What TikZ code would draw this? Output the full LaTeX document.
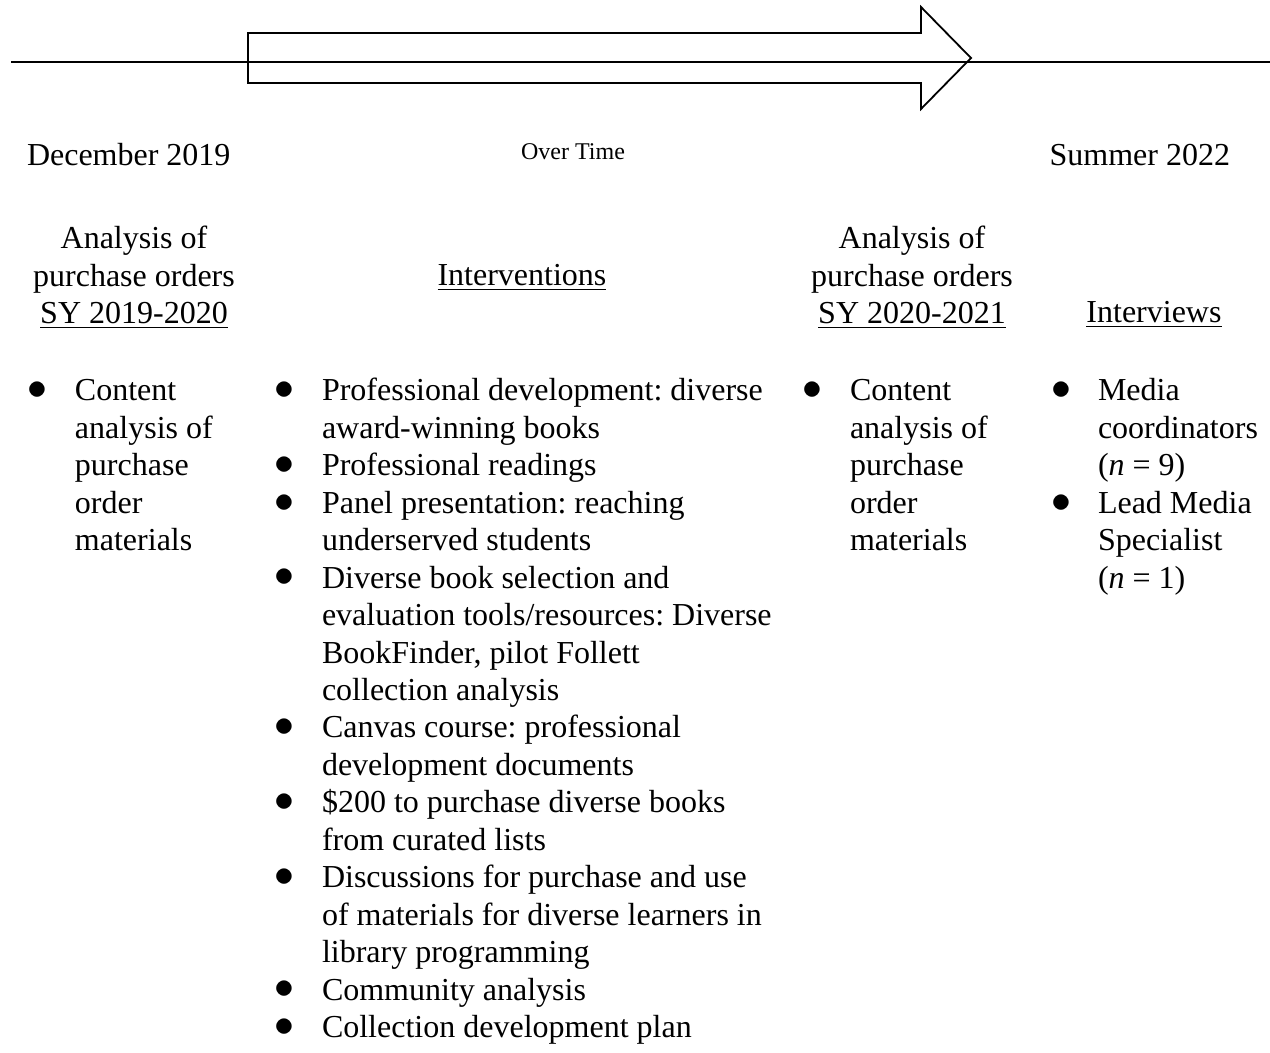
\documentclass[tikz,border=0pt]{standalone}
\usepackage{fontspec}
\setmainfont{Liberation Serif}
\usepackage{tikz}
\usetikzlibrary{positioning}
\frenchspacing
\newcommand{\blt}{\raisebox{0.6pt}{\scalebox{1.15}{$\bullet$}}}

\begin{document}
\begin{tikzpicture}[x=0.5pt, y=-0.5pt,
    txt/.style={inner sep=0pt, outer sep=0pt, font=\fontsize{16}{18.72}\selectfont},
    small/.style={inner sep=0pt, outer sep=0pt, font=\fontsize{12}{14}\selectfont}]
  \useasboundingbox (0,0) rectangle (1270,1053);

  % time line and the big arrow
  \coordinate (TLstart) at (11,62);
  \coordinate (TLend) at (1270,62);
  \draw[line width=1pt] (TLstart) -- (TLend);
  \draw[line width=0.9pt, line join=miter]
    (248,33) -- (921,33) -- (921,7) -- (971,58) -- (921,109) -- (921,83) -- (248,83) -- cycle;

  \node[txt, anchor=base west] (Dec) at (27,166) {December 2019};
  \node[small, anchor=base] (OverTime) at (573,160) {Over Time};
  \node[txt, anchor=base east] (Summer) at (1230,166) {Summer 2022};

  % headings
  \node[txt, anchor=base] (PO1) at (134,249) {\begin{tabular}[t]{@{}c@{}}Analysis of\\
      purchase orders\\ \underline{SY 2019-2020}\end{tabular}};
  \node[txt, anchor=base] (Interv) at (522,286) {\underline{Interventions}};
  \node[txt, anchor=base] (PO2) at (912,249) {\begin{tabular}[t]{@{}c@{}}Analysis of\\
      purchase orders\\ \underline{SY 2020-2021}\end{tabular}};
  \node[txt, anchor=base] (Interviews) at (1154,323) {\underline{Interviews}};

  % bullet lists
  \node[txt, anchor=base west] (PO1List) at (27,401) {\begin{tabular}[t]{@{}p{24pt}@{}l@{}}
      \blt & Content\\ & analysis of\\ & purchase\\ & order\\ & materials
    \end{tabular}};
  \node[txt, anchor=base west] (IntervList) at (274,401) {\begin{tabular}[t]{@{}p{24pt}@{}l@{}}
      \blt & Professional development: diverse\\ & award-winning books\\
      \blt & Professional readings\\
      \blt & Panel presentation: reaching\\ & underserved students\\
      \blt & Diverse book selection and\\ & evaluation tools/resources: Diverse\\
      & BookFinder, pilot Follett\\ & collection analysis\\
      \blt & Canvas course: professional\\ & development documents\\
      \blt & \$200 to purchase diverse books\\ & from curated lists\\
      \blt & Discussions for purchase and use\\ & of materials for diverse learners in\\
      & library programming\\
      \blt & Community analysis\\
      \blt & Collection development plan
    \end{tabular}};
  \node[txt, anchor=base west] (PO2List) at (802,401) {\begin{tabular}[t]{@{}p{24pt}@{}l@{}}
      \blt & Content\\ & analysis of\\ & purchase\\ & order\\ & materials
    \end{tabular}};
  \node[txt, anchor=base west] (InterviewsList) at (1051,401) {\begin{tabular}[t]{@{}p{23.5pt}@{}l@{}}
      \blt & Media\\ & coordinators\\ & (\textit{n} = 9)\\
      \blt & Lead Media\\ & Specialist\\ & (\textit{n} = 1)
    \end{tabular}};
\end{tikzpicture}
\end{document}
